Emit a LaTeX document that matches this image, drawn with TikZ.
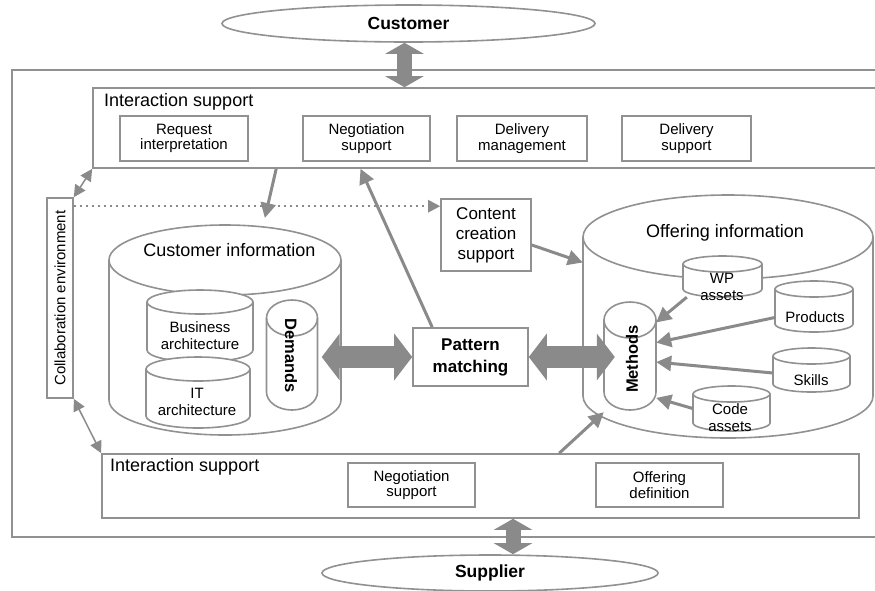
\documentclass[tikz,border=0pt]{standalone}
\usepackage{fontspec}
\setmainfont{Liberation Sans}
\usepackage{graphicx}
\usetikzlibrary{arrows.meta,shapes.geometric}

\definecolor{linegray}{RGB}{145,145,145}
\definecolor{arrowgray}{RGB}{138,138,138}

% a drum: name, centre x, centre y, half width, half height, ellipse radius
\newcommand{\infodrum}[6]{%
  \filldraw[boxline, fill=white] (#2-#4,-#3+#5) -- (#2-#4,-#3-#5)
    arc[start angle=180, end angle=360, x radius=#4, y radius=#6]
    -- (#2+#4,-#3+#5)
    arc[start angle=0, end angle=180, x radius=#4, y radius=#6] -- cycle;
  \draw[boxline] (#2-#4,-#3+#5)
    arc[start angle=180, end angle=360, x radius=#4, y radius=#6];
  \node[inner sep=0pt, minimum width=2*#4, minimum height=2*#5+2*#6] (#1) at (#2,-#3) {};
}

\tikzset{
  boxline/.style={draw=linegray, line width=1.6pt},
  panel/.style={boxline, inner sep=0pt},
  smallbox/.style={boxline, fill=white, align=center, inner sep=0pt,
    font=\fontsize{15}{15.5}\selectfont},
  bigtext/.style={inner sep=0pt, align=center, font=\fontsize{18}{20}\selectfont},
  boldtext/.style={inner sep=0pt, align=center, font=\fontsize{17}{22}\selectfont\bfseries},
  drumtext/.style={inner sep=0pt, align=center, font=\fontsize{15}{17}\selectfont},
  partner/.style={ellipse, boxline, fill=white, inner sep=0pt,
    font=\fontsize{17.5}{20}\selectfont\bfseries},
  midarrow/.style={draw=arrowgray, line width=3pt, -{Triangle[length=15pt,width=15pt]}},
  thinarrow/.style={draw=arrowgray, line width=1.5pt,
    {Triangle[length=12pt,width=12pt]}-{Triangle[length=12pt,width=12pt]}},
  dotarrow/.style={draw=arrowgray, line width=2.5pt, dash pattern=on 2.5pt off 3.5pt,
    -{Triangle[length=12pt,width=12pt]}},
  fatarrow/.style={draw=arrowgray, line width=22pt,
    {Triangle[length=18pt,width=46pt]}-{Triangle[length=18pt,width=46pt]}},
  vertarrow/.style={draw=arrowgray, line width=15pt,
    {Triangle[length=11pt,width=38pt]}-{Triangle[length=11pt,width=38pt]}},
}

\begin{document}
\begin{tikzpicture}[x=1pt, y=1pt]
\useasboundingbox (0,0) rectangle (875,-590);

% Outer frame and the two interaction panels
\node[panel, minimum width=868, minimum height=467] (frame) at (446,-303.5) {};
\node[panel, minimum width=787, minimum height=80] (topbox) at (486.5,-128) {};
\node[panel, minimum width=757, minimum height=64] (botbox) at (480.5,-486) {};
\node[bigtext, anchor=west] (toplabel) at (104,-102) {Interaction support};
\node[bigtext, anchor=west] (botlabel) at (110,-467) {Interaction support};

% Customer and supplier
\node[partner, minimum width=373, minimum height=37] (customer) at (408.5,-23.5) {Customer};
\node[partner, minimum width=336, minimum height=36] (supplier) at (490,-573) {Supplier};

% Boxes of the top panel
\node[smallbox, minimum width=128, minimum height=45] (req) at (184,-138.5) {Request\\interpretation};
\node[smallbox, minimum width=127, minimum height=45] (nego) at (366.5,-138.5) {Negotiation\\support};
\node[smallbox, minimum width=130, minimum height=45] (delmgmt) at (522,-138.5) {Delivery\\management};
\node[smallbox, minimum width=129, minimum height=45] (delsup) at (686.5,-138.5) {Delivery\\support};

% Boxes of the bottom panel
\node[smallbox, minimum width=127, minimum height=44] (nego2) at (411.5,-485) {Negotiation\\support};
\node[smallbox, minimum width=127, minimum height=44] (offdef) at (659.5,-485) {Offering\\definition};

% Collaboration, content creation and matching
\node[smallbox, minimum width=26, minimum height=200] (collab) at (60,-298)
  {\rotatebox{90}{Collaboration environment}};
\node[smallbox, font=\fontsize{17}{20}\selectfont, minimum width=90, minimum height=72]
  (content) at (486,-235) {Content\\creation\\support};
\node[smallbox, font=\fontsize{17}{22}\selectfont\bfseries, minimum width=115, minimum height=58]
  (pattern) at (470.5,-357) {Pattern\\matching};

% Customer information drum
\infodrum{custinfo}{225}{330}{116}{70}{35}
\node[bigtext] (custlabel) at (229.5,-250) {Customer information};
\infodrum{business}{200}{326}{53}{24}{12}
\node[drumtext] (buslabel) at (200,-336) {Business\\architecture};
\infodrum{itarch}{198}{392.5}{52}{23.5}{12}
\node[drumtext] (itlabel) at (197,-401.5) {IT\\architecture};
\infodrum{demands}{292}{355}{25.5}{37}{18}
\node[boldtext, font=\fontsize{16.5}{20}\selectfont\bfseries, rotate=-90] (demlabel) at (291,-356) {Demands};

% Offering information drum
\infodrum{offinfo}{728}{316.5}{145}{79.5}{42}
\node[bigtext] (offlabel) at (725,-233) {Offering information};
\infodrum{methods}{630}{356}{26}{36}{18}
\node[boldtext, font=\fontsize{16.5}{20}\selectfont\bfseries, rotate=90] (methlabel) at (632,-359) {Methods};
\infodrum{wp}{722.5}{276.5}{39.5}{12.5}{8}
\node[drumtext] (wplabel) at (722,-287) {WP\\assets};
\infodrum{products}{814}{306.5}{39}{17.5}{8}
\node[drumtext] (prodlabel) at (815,-317) {Products};
\infodrum{skills}{811.5}{370}{38.5}{14}{8}
\node[drumtext] (skilllabel) at (811,-380) {Skills};
\infodrum{code}{731.5}{408.5}{38.5}{14.5}{8}
\node[drumtext] (codelabel) at (730,-418) {Code\\assets};

% Links to customer and supplier
\coordinate (custarrow) at ([xshift=-4pt]customer.south);
\draw[vertarrow] (custarrow) -- (custarrow |- topbox.north);
\coordinate (suparrow) at ([xshift=23pt]supplier.north);
\draw[vertarrow] (suparrow |- botbox.south) -- (suparrow);

% Collaboration links
\draw[thinarrow] (collab.north east) -- (topbox.south west);
\draw[thinarrow] (collab.south east) -- (botbox.north west);
\coordinate (dotstart) at ([yshift=-9pt]collab.north east);
\draw[dotarrow] (dotstart) -- (dotstart -| content.west);

% Flows between panels and drums
\draw[midarrow, shorten >=7pt] ([xshift=184pt]topbox.south west) -- (custinfo.70);
\coordinate (negotip) at ([xshift=-6pt]nego.south);
\draw[midarrow] ([xshift=20pt]pattern.north west) -- (negotip |- topbox.south);
\draw[midarrow] ([yshift=-10pt]content.east) -- ([yshift=54pt]offinfo.west);
\draw[midarrow] ([xshift=458pt]botbox.north west) -- ([xshift=21pt,yshift=26pt]offinfo.south west);

% Matching
\draw[fatarrow, shorten <=4pt] (demands.east |- pattern.west) -- (pattern.west);
\draw[fatarrow, shorten >=-11pt] (pattern.east) -- (methods.west |- pattern.east);

% Assets feeding the methods
\draw[midarrow] ([xshift=4pt]wp.south west) -- (methods.52);
\draw[midarrow] ([yshift=-11pt]products.west) -- (methods.27);
\draw[midarrow] ([yshift=-3pt]skills.west) -- (methods.-13);
\draw[midarrow] (code.west) -- (methods.-58);
\end{tikzpicture}
\end{document}
